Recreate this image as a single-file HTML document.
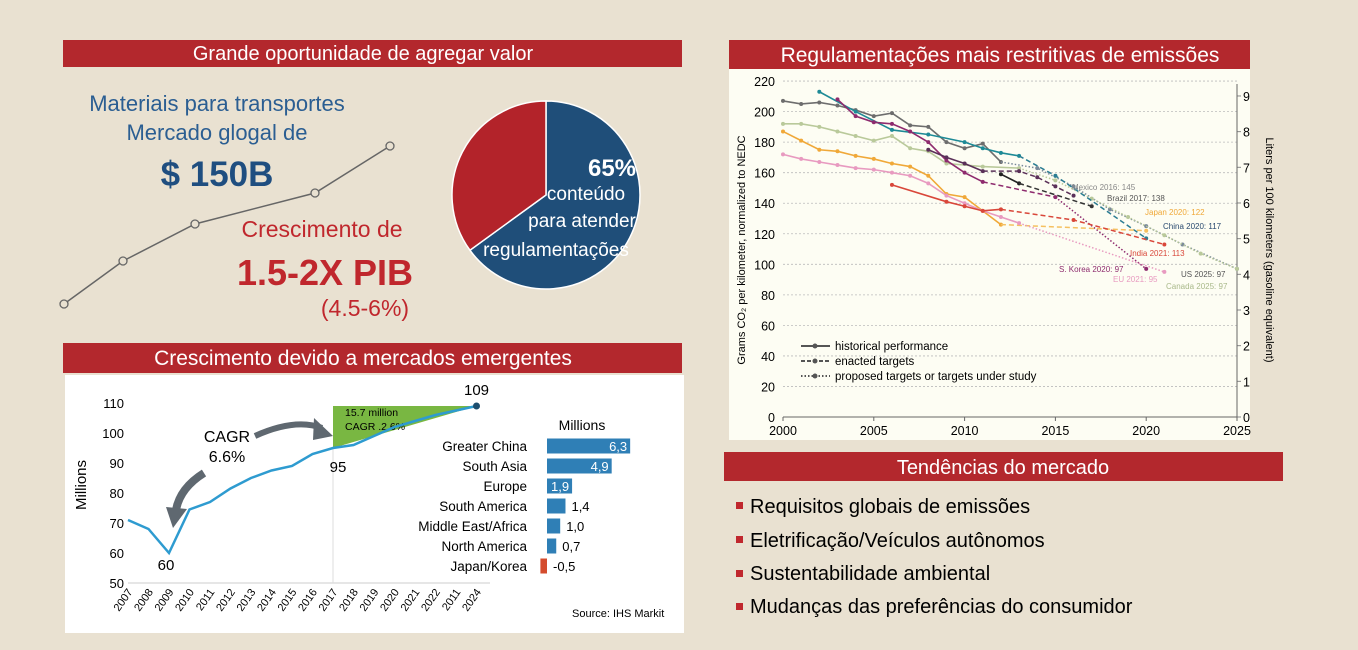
<!DOCTYPE html>
<html><head><meta charset="utf-8"><style>
body{margin:0;background:#e9e1d1;}
svg{display:block;font-family:"Liberation Sans",sans-serif;}
</style></head><body>
<svg id="s" width="1358" height="650" viewBox="0 0 1358 650">
<rect x="0" y="0" width="1358" height="650" fill="#e9e1d1"/>
<rect x="63" y="40" width="619" height="27" fill="#b3282d"/>
<text x="363" y="60" text-anchor="middle" fill="#fff" font-size="20">Grande oportunidade de agregar valor</text>
<g id="trend"></g>
<text x="217" y="111" text-anchor="middle" fill="#2b5e92" font-size="22">Materiais para transportes</text>
<text x="217" y="140" text-anchor="middle" fill="#2b5e92" font-size="22">Mercado glogal de</text>
<text x="217" y="186" text-anchor="middle" fill="#1f4e80" font-size="35" font-weight="bold">$ 150B</text>
<text x="322" y="237" text-anchor="middle" fill="#c0272d" font-size="23">Crescimento de</text>
<text x="325" y="285" text-anchor="middle" fill="#c0272d" font-size="36" font-weight="bold">1.5-2X PIB</text>
<text x="365" y="316" text-anchor="middle" fill="#c0272d" font-size="23">(4.5-6%)</text>
<g id="pie"></g>
<text x="612" y="176" text-anchor="middle" fill="#fff" font-size="24" font-weight="bold">65%</text>
<text x="586" y="200" text-anchor="middle" fill="#fff" font-size="19">conteúdo</text>
<text x="582" y="227" text-anchor="middle" fill="#fff" font-size="19">para atender</text>
<text x="556" y="256" text-anchor="middle" fill="#fff" font-size="19">regulamentações</text>
<rect x="63" y="343" width="619" height="30" fill="#b3282d"/>
<text x="363" y="365" text-anchor="middle" fill="#fff" font-size="21">Crescimento devido a mercados emergentes</text>
<rect x="65" y="375" width="619" height="258" fill="#fff"/>
<g id="lc"></g>
<g id="bc"></g>
<text x="572" y="617" font-size="11" fill="#000">Source: IHS Markit</text>
<rect x="729" y="40" width="521" height="29" fill="#b3282d"/>
<text x="1000" y="62" text-anchor="middle" fill="#fff" font-size="21">Regulamentações mais restritivas de emissões</text>
<rect x="729" y="69" width="521" height="371" fill="#fdfdf3"/>
<g id="ec"></g>
<rect x="724" y="452" width="559" height="29" fill="#b3282d"/>
<text x="1003" y="474" text-anchor="middle" fill="#fff" font-size="20">Tendências do mercado</text>
<g>
<rect x="736" y="502" width="7" height="7" fill="#c0272d"/><text x="750" y="513" font-size="20">Requisitos globais de emissões</text>
<rect x="736" y="536" width="7" height="7" fill="#c0272d"/><text x="750" y="547" font-size="20">Eletrificação/Veículos autônomos</text>
<rect x="736" y="570" width="7" height="7" fill="#c0272d"/><text x="750" y="580" font-size="20">Sustentabilidade ambiental</text>
<rect x="736" y="603" width="7" height="7" fill="#c0272d"/><text x="750" y="613" font-size="20">Mudanças das preferências do consumidor</text>
</g>
</svg>
<script>
const NS='http://www.w3.org/2000/svg';
function mk(p,t,a,txt){const e=document.createElementNS(NS,t);for(const k in a)e.setAttribute(k,a[k]);if(txt!=null)e.textContent=txt;p.appendChild(e);return e;}
const trendPts=[[64,304],[123,261],[195,224],[315,193],[390,146]];
const pieShare=[65,35];
const salesYears=['2007','2008','2009','2010','2011','2012','2013','2014','2015','2016','2017','2018','2019','2020','2021','2022','2011','2024'];
const salesValues=[71,68,60,74.5,77,81.5,85,87.5,89,93,95,96,99,102,104,106,107.5,109];
const salesTicks=[50,60,70,80,90,100,110];
const regions=['Greater China','South Asia','Europe','South America','Middle East/Africa','North America','Japan/Korea'];
const regionValues=[6.3,4.9,1.9,1.4,1.0,0.7,-0.5];
const regionLabels=['6,3','4,9','1,9','1,4','1,0','0,7','-0,5'];
const emisLeftTicks=[0,20,40,60,80,100,120,140,160,180,200,220];
const emisRightTicks=[0,1,2,3,4,5,6,7,8,9];
const emisYears=[2000,2005,2010,2015,2020,2025];
const usHist=[[2000,207],[2001,205],[2002,206],[2003,204],[2004,201],[2005,197],[2006,199],[2007,191],[2008,190],[2009,180],[2010,176],[2011,179],[2012,167]];
const usProp=[[2012,167],[2014,163],[2016,151],[2018,136],[2020,125],[2022,113],[2025,97]];
const caHist=[[2000,192],[2001,192],[2002,190],[2003,187],[2004,184],[2005,181],[2006,184],[2007,176],[2008,174],[2009,166],[2011,164],[2013,163]];
const caProp=[[2013,163],[2015,155],[2017,143],[2019,131],[2021,119],[2023,107],[2025,97]];
const cnHist=[[2002,213],[2004,200],[2006,188],[2008,185],[2010,180],[2011,176],[2012,173],[2013,171]];
const cnEnact=[[2013,171],[2015,158],[2020,117]];
const krHist=[[2003,208],[2004,197],[2005,193],[2006,192],[2007,187],[2008,180],[2009,168],[2010,160],[2011,154]];
const krEnact=[[2011,154],[2015,144]];
const krProp=[[2015,144],[2020,97]];
const jpHist=[[2000,187],[2001,181],[2002,175],[2003,174],[2004,171],[2005,169],[2006,166],[2007,164],[2008,158],[2009,146],[2010,144],[2011,135],[2012,126]];
const jpEnact=[[2012,126],[2020,122]];
const euHist=[[2000,172],[2001,169],[2002,167],[2003,165],[2004,163],[2005,162],[2006,160],[2007,158],[2008,153],[2009,145],[2010,140],[2011,135],[2012,131],[2013,127]];
const euProp=[[2013,127],[2021,95]];
const inHist=[[2006,152],[2009,141],[2010,138],[2011,135],[2012,136]];
const inEnact=[[2012,136],[2016,129],[2021,113]];
const mxHist=[[2008,175],[2009,170],[2010,166],[2011,161]];
const mxEnact=[[2011,161],[2013,161],[2014,157],[2015,151],[2016,145]];
const brHist=[[2012,159],[2013,153]];
const brEnact=[[2013,153],[2017,138]];
const tg=document.getElementById('trend');
let tl=mk(tg,'polyline',{points:trendPts.map(p=>p.join(',')).join(' '),fill:'none',stroke:'#666','stroke-width':1.5});


trendPts.forEach(p=>{const c=mk(tg,'circle',{cx:p[0],cy:p[1],r:4,fill:'#e9e1d1',stroke:'#666','stroke-width':1.3});

});
const pg=document.getElementById('pie');const cx=546,cy=195,R=94;let a0=-Math.PI/2;
const pcol=['#1f4e79','#b3232a'];
pieShare.forEach((v,i)=>{const a1=a0+v/100*2*Math.PI;const large=v>50?1:0;
const d=`M${cx},${cy} L${cx+R*Math.cos(a0)},${cy+R*Math.sin(a0)} A${R},${R} 0 ${large} 1 ${cx+R*Math.cos(a1)},${cy+R*Math.sin(a1)} Z`;
const s=mk(pg,'path',{d,fill:pcol[i],stroke:'#fff','stroke-width':1.5});

a0=a1;});
const lc=document.getElementById('lc');
const lx=i=>128+i*20.5, ly=v=>583-(v-50)*3;
mk(lc,'line',{x1:128,y1:583,x2:490,y2:583,stroke:'#ccc'});
salesTicks.forEach(t=>{const e=mk(lc,'text',{x:124,y:ly(t)+5,'text-anchor':'end','font-size':13},t);

});
const mt=mk(lc,'text',{transform:'translate(86,485) rotate(-90)','text-anchor':'middle','font-size':15},'Millions');


salesYears.forEach((y,i)=>{const e=mk(lc,'text',{transform:`translate(${lx(i)+5},${592}) rotate(-55)`,'text-anchor':'end','font-size':11},y);

});
mk(lc,'line',{x1:lx(10),y1:ly(95),x2:lx(10),y2:583,stroke:'#ddd'});
const tri=mk(lc,'polygon',{points:`${lx(10)},${ly(109)} ${lx(17)},${ly(109)} ${lx(10)},${ly(95)}`,fill:'#79b742'});


mk(lc,'text',{x:345,y:416,'font-size':10.5},'15.7 million');
mk(lc,'text',{x:345,y:430,'font-size':10.5},'CAGR .2.6%');
const sl=mk(lc,'polyline',{points:salesValues.map((v,i)=>lx(i)+','+ly(v)).join(' '),fill:'none',stroke:'#2e9bd0','stroke-width':2.5});


mk(lc,'circle',{cx:lx(17),cy:ly(109),r:3.5,fill:'#1d4e6e'});
mk(lc,'text',{x:lx(17),y:ly(109)-11,'text-anchor':'middle','font-size':15},'109');
mk(lc,'text',{x:lx(10)+5,y:ly(95)+24,'text-anchor':'middle','font-size':15},'95');
mk(lc,'text',{x:lx(2)-3,y:ly(60)+17,'text-anchor':'middle','font-size':15},'60');
mk(lc,'text',{x:227,y:442,'text-anchor':'middle','font-size':16},'CAGR');
mk(lc,'text',{x:227,y:462,'text-anchor':'middle','font-size':16},'6.6%');
mk(lc,'path',{d:'M255,436 Q295,418 322,428',fill:'none',stroke:'#5f6870','stroke-width':6});
mk(lc,'polygon',{points:'314,418 333,436 313,440',fill:'#5f6870'});
mk(lc,'path',{d:'M204,473 Q180,488 176,510',fill:'none',stroke:'#5f6870','stroke-width':8});
mk(lc,'polygon',{points:'166,507 187,509 173,528',fill:'#5f6870'});
const bc=document.getElementById('bc');
const bx=v=>547+v*13.2, by=i=>446+i*20;
mk(bc,'text',{x:582,y:430,'text-anchor':'middle','font-size':14},'Millions');
regions.forEach((r,i)=>{const v=regionValues[i];
const t=mk(bc,'text',{x:527,y:by(i)+5,'text-anchor':'end','font-size':13.5},r);


const x0=Math.min(bx(0),bx(v)),w=Math.abs(bx(v)-bx(0));
const b=mk(bc,'rect',{x:x0,y:by(i)-7.5,width:w,height:15,fill:v<0?'#d44c2e':'#2f7fb6'});


const inside=v>=1.9;
mk(bc,'text',{x:inside?bx(v)-3:bx(Math.max(v,0))+6,y:by(i)+5,'text-anchor':inside?'end':'start','font-size':13,fill:inside?'#fff':'#000'},regionLabels[i]);});
const ec=document.getElementById('ec');
const ex=y=>783+(y-2000)*18.16, ey=v=>417-v*1.527, eyr=l=>417-l*35.67;
emisLeftTicks.forEach(t=>{if(t>0)mk(ec,'line',{x1:783,y1:ey(t),x2:1237,y2:ey(t),stroke:'#bbb','stroke-dasharray':'2,2','stroke-width':0.8});
const e=mk(ec,'text',{x:775,y:ey(t)+5,'text-anchor':'end','font-size':12.5},t);

});
emisRightTicks.forEach(t=>{mk(ec,'line',{x1:1237,y1:eyr(t),x2:1241,y2:eyr(t),stroke:'#888'});
const e=mk(ec,'text',{x:1243,y:eyr(t)+5,'font-size':12.5},t);

});
mk(ec,'line',{x1:783,y1:417,x2:1237,y2:417,stroke:'#666'});
mk(ec,'line',{x1:1237,y1:84,x2:1237,y2:417,stroke:'#666'});
emisYears.forEach(y=>{mk(ec,'line',{x1:ex(y),y1:417,x2:ex(y),y2:421,stroke:'#666'});
const e=mk(ec,'text',{x:ex(y),y:435,'text-anchor':'middle','font-size':12.5},y);

});
const lt=mk(ec,'text',{transform:'translate(745,250) rotate(-90)','text-anchor':'middle','font-size':11},'Grams CO₂ per kilometer, normalized to NEDC');


const rt=mk(ec,'text',{transform:'translate(1266,250) rotate(90)','text-anchor':'middle','font-size':11},'Liters per 100 kilometers (gasoline equivalent)');


function series(pts,col,style,name){const dash=style=='hist'?'':style=='enact'?'5,3':'1.5,2';
const l=mk(ec,'polyline',{points:pts.map(p=>ex(p[0])+','+ey(p[1])).join(' '),fill:'none',stroke:col,'stroke-width':style=='hist'?1.6:1.5,'stroke-dasharray':dash});


pts.forEach((p,i)=>{if(style!='hist'&&i==0)return;mk(ec,'circle',{cx:ex(p[0]),cy:ey(p[1]),r:2,fill:col});});}
series(usHist,'#6d6d6d','hist','us-historical');series(usProp,'#7a8a9a','prop','us-proposed');
series(caHist,'#b9c99a','hist','canada-historical');series(caProp,'#b9c99a','prop','canada-proposed');
series(cnHist,'#1d8a96','hist','china-historical');series(cnEnact,'#2a7c92','enact','china-enacted');
series(krHist,'#8e2b6e','hist','korea-historical');series(krEnact,'#8e2b6e','enact','korea-enacted');series(krProp,'#8e2b6e','prop','korea-proposed');
series(jpHist,'#f0a838','hist','japan-historical');series(jpEnact,'#f5c060','enact','japan-enacted');
series(euHist,'#e89ac0','hist','eu-historical');series(euProp,'#e89ac0','prop','eu-proposed');
series(inHist,'#d9473a','hist','india-historical');series(inEnact,'#d9473a','enact','india-enacted');
series(mxHist,'#5a3058','hist','mexico-historical');series(mxEnact,'#5a3058','enact','mexico-enacted');
series(brHist,'#222','hist','brazil-historical');series(brEnact,'#333','enact','brazil-enacted');
const labs=[['Mexico 2016: 145',1072,190,'#888'],['Brazil 2017: 138',1107,201,'#555'],['Japan 2020: 122',1145,215,'#f0a838'],['China 2020: 117',1163,229,'#2a4a70'],['India 2021: 113',1130,256,'#d9473a'],['S. Korea 2020: 97',1059,272,'#8e2b6e'],['US 2025: 97',1181,277,'#555'],['EU 2021: 95',1113,282,'#e89ac0'],['Canada 2025: 97',1166,289,'#a9b98a']];
labs.forEach(l=>{const e=mk(ec,'text',{x:l[1],y:l[2],'font-size':8,fill:l[3]},l[0]);

});
const legs=[['historical performance',''],['enacted targets','4,2'],['proposed targets or targets under study','1.5,2']];
legs.forEach((l,i)=>{const y=346+i*15;mk(ec,'line',{x1:801,y1:y,x2:830,y2:y,stroke:'#555','stroke-width':2,'stroke-dasharray':l[1]});mk(ec,'circle',{cx:815,cy:y,r:2.5,fill:'#555'});
const e=mk(ec,'text',{x:835,y:y+4,'font-size':11.5},l[0]);

});
</script>
</body></html>
